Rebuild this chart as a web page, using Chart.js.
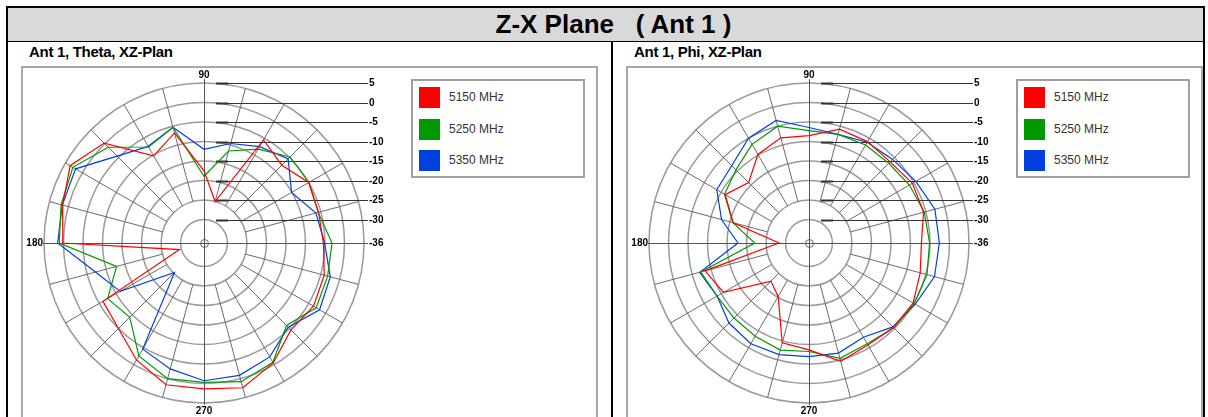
<!DOCTYPE html>
<html>
<head>
<meta charset="utf-8">
<script src="https://cdn.jsdelivr.net/npm/chart.js@4.4.1/dist/chart.umd.min.js"></script>
<style>
  body { margin: 0; background: #fff; font-family: "Liberation Sans", Arial, sans-serif; }
  #page { position: relative; width: 1208px; height: 417px; overflow: hidden; }
  .line { position: absolute; background: #000; }
  #title { position: absolute; left: 8px; top: 8px; width: 1195px; height: 33px; background: #d9d9d9;
           font-weight: bold; font-size: 26px; line-height: 33px; text-align: center; white-space: pre; color: #000;
           box-sizing: border-box; padding-left: 16px; }
  .sub { position: absolute; top: 44px; font-weight: bold; font-size: 15px; line-height: 16px; color: #000; letter-spacing: -0.3px; }
  .frame { position: absolute; top: 66px; height: 400px; border-left: 2px solid #a8a8a8; border-top: 2px solid #a8a8a8;
           border-right: 2px solid #a8a8a8; }
  canvas { position: absolute; }
  .legend { position: absolute; top: 79px; width: 170px; height: 95px; border: 2px solid #a0a0a0; background: #fff; }
  .legend div { position: absolute; left: 36px; font-size: 12px; color: #333; line-height: 21px; }
  .legend span { position: absolute; left: -30px; top: 0; width: 21px; height: 21px; }
</style>
</head>
<body>
<div id="page">
  <div id="title">Z-X Plane   ( Ant 1 )</div>
  <div class="line" style="left:6px; top:6px; width:1199px; height:2px;"></div>
  <div class="line" style="left:6px; top:6px; width:2px; height:420px;"></div>
  <div class="line" style="left:1203px; top:6px; width:2px; height:420px;"></div>
  <div class="line" style="left:6px; top:41px; width:1199px; height:1px;"></div>
  <div class="line" style="left:611px; top:41px; width:2px; height:380px;"></div>

  <div class="sub" style="left:29px;">Ant 1, Theta, XZ-Plan</div>
  <div class="sub" style="left:634px;">Ant 1, Phi, XZ-Plan</div>

  <div class="frame" style="left:21px; width:573px;"></div>
  <div class="frame" style="left:626px; width:573px;"></div>

  <canvas id="chartTheta" width="570" height="349" style="left:24px; top:68px;"></canvas>
  <canvas id="chartPhi" width="570" height="349" style="left:629px; top:68px;"></canvas>

  <div class="legend" style="left:411px;">
    <div style="top:6px;"><span style="background:#ff0000"></span>5150 MHz</div>
    <div style="top:38px;"><span style="background:#009a00"></span>5250 MHz</div>
    <div style="top:69px;"><span style="background:#0040e0"></span>5350 MHz</div>
  </div>
  <div class="legend" style="left:1016px;">
    <div style="top:6px;"><span style="background:#ff0000"></span>5150 MHz</div>
    <div style="top:38px;"><span style="background:#009a00"></span>5250 MHz</div>
    <div style="top:69px;"><span style="background:#0040e0"></span>5350 MHz</div>
  </div>
</div>

<script>
// angles in degrees, 0 = right, counter-clockwise
const angles = [0, 15, 30, 45, 60, 75, 90, 105, 120, 135, 150, 165, 180, 195, 210, 225, 240, 255, 270, 285, 300, 315, 330, 345];
const seriesNames = ['5150 MHz', '5250 MHz', '5350 MHz'];
const seriesColors = ['#ff0000', '#009a00', '#0040e0'];
const ringTicks = [-36, -30, -25, -20, -15, -10, -5, 0, 5];

// Ant 1, Theta, XZ-Plan (dBi)
const theta5150 = [-5.4, -5.6, -5.0, -7.8, -5.5, -25.0, -17.5, -6.8, -10.2, 0.2, 3.6, 1.5, 0.2, -29.5, -6.1, -5.0, -1.4, 1.6, 1.4, 2.4, -0.5, -4.5, -3.6, -4.1];
const theta5250 = [-3.2, -5.7, -5.0, -4.8, -8.2, -11.6, -18.9, -5.3, -7.6, -1.3, 2.8, 1.9, 1.1, -12.8, -7.5, -9.1, -2.6, 0.0, -0.3, 0.8, -0.7, -6.1, -2.8, -3.2];
const theta5350 = [-5.1, -6.3, -10.1, -5.5, -7.5, -9.6, -12.0, -5.3, -7.4, -4.5, 2.0, 1.6, 1.5, -7.2, -11.2, -25.3, -4.6, -2.6, -0.7, -0.9, -2.3, -5.5, -1.8, -2.5];

// Ant 1, Phi, XZ-Plan (dBi)
const phi5150 = [-7.2, -5.6, -5.4, -6.6, -6.0, -5.8, -8.5, -8.1, -9.8, -14.1, -11.2, -15.9, -28.3, -8.4, -10.7, -22.2, -20.2, -9.5, -8.6, -4.6, -5.8, -5.4, -5.2, -6.5];
const phi5250 = [-5.1, -5.4, -6.3, -7.1, -7.0, -7.2, -7.2, -5.0, -6.8, -9.5, -11.0, -15.8, -22.1, -7.3, -8.8, -8.8, -8.4, -7.6, -8.2, -5.4, -6.2, -5.3, -4.9, -4.7];
const phi5350 = [-2.6, -2.6, -4.4, -5.7, -6.2, -7.2, -6.4, -3.5, -5.0, -8.0, -8.7, -12.8, -17.8, -7.0, -8.8, -7.0, -6.2, -6.4, -6.9, -6.8, -8.1, -5.6, -4.6, -2.7];

// Chart.js radar runs clockwise from the top, so reorder: 90, 75, 60 ... 105
const order = angles.map((_, i) => angles.indexOf((90 - i * 15 + 360) % 360));
const chartLabels = order.map(k => angles[k]);

const polarDecor = {
    id: 'polarDecor',
    beforeDatasetsDraw(chart) {
        const r = chart.scales.r;
        const ctx = chart.ctx;
        const cx = r.xCenter, cy = r.yCenter;
        const R = r.getDistanceFromCenterForValue(r.max);
        const rIn = r.getDistanceFromCenterForValue(-25);
        ctx.save();

        // spokes every 15 degrees
        ctx.strokeStyle = '#6a6a6a';
        ctx.lineWidth = 1;
        chart.data.labels.forEach((lab, i) => {
            if (lab % 90 === 0) return;
            const a = r.getPointPosition(i, rIn);
            const b = r.getPointPosition(i, R);
            ctx.beginPath();
            ctx.moveTo(a.x, a.y);
            ctx.lineTo(b.x, b.y);
            ctx.stroke();
        });

        // main axes
        ctx.strokeStyle = '#555';
        ctx.beginPath();
        ctx.moveTo(cx + 0.5, cy - R - 4);
        ctx.lineTo(cx + 0.5, cy + R + 2);
        ctx.moveTo(cx - R - 1, cy + 0.5);
        ctx.lineTo(cx + 164, cy + 0.5);
        ctx.stroke();

        // value lines to the labels on the right
        ctx.font = 'bold 10px "Liberation Sans", Arial, sans-serif';
        ctx.fillStyle = '#000';
        ctx.textBaseline = 'middle';
        ctx.textAlign = 'left';
        ringTicks.forEach(v => {
            const y = Math.round(cy - r.getDistanceFromCenterForValue(v)) + 0.5;
            if (v !== -36) {
                ctx.strokeStyle = '#333';
                ctx.lineWidth = 1;
                ctx.beginPath();
                ctx.moveTo(cx + 12, y);
                ctx.lineTo(cx + 164, y);
                ctx.stroke();
                ctx.lineWidth = 2;
                ctx.beginPath();
                ctx.moveTo(cx + 12, y);
                ctx.lineTo(cx + 24, y);
                ctx.stroke();
            }
            ctx.fillText(String(v), cx + 165, y);
        });

        // centre marker
        ctx.strokeStyle = '#666';
        ctx.lineWidth = 1;
        ctx.beginPath();
        ctx.arc(cx + 0.5, cy + 0.5, 4, 0, Math.PI * 2);
        ctx.stroke();

        // angle labels
        ctx.textAlign = 'center';
        ctx.fillText('90', cx, cy - R - 8);
        ctx.fillText('270', cx, cy + R + 8);
        ctx.textAlign = 'right';
        ctx.fillText('180', cx - R - 1, cy);
        ctx.restore();
    }
};

function makeChart(id, values) {
    new Chart(document.getElementById(id), {
        type: 'radar',
        data: {
            labels: chartLabels,
            datasets: values.map((vals, s) => ({
                label: seriesNames[s],
                data: order.map(k => vals[k]),
                borderColor: seriesColors[s],
                borderWidth: 1.2,
                pointRadius: 0,
                fill: false,
                tension: 0
            }))
        },
        options: {
            responsive: false,
            animation: false,
            layout: { padding: { left: 20, top: 15, right: 230, bottom: 14 } },
            plugins: { legend: { display: false }, tooltip: { enabled: false } },
            scales: {
                r: {
                    min: -36,
                    max: 5,
                    startAngle: 0,
                    afterBuildTicks: (scale) => { scale.ticks = ringTicks.map(v => ({ value: v })); },
                    ticks: { display: false },
                    pointLabels: { display: false },
                    angleLines: { display: false },
                    grid: { circular: true, color: '#9a9a9a', lineWidth: 1.5 }
                }
            }
        },
        plugins: [polarDecor]
    });
}

makeChart('chartTheta', [theta5150, theta5250, theta5350]);
makeChart('chartPhi', [phi5150, phi5250, phi5350]);
</script>
</body>
</html>
